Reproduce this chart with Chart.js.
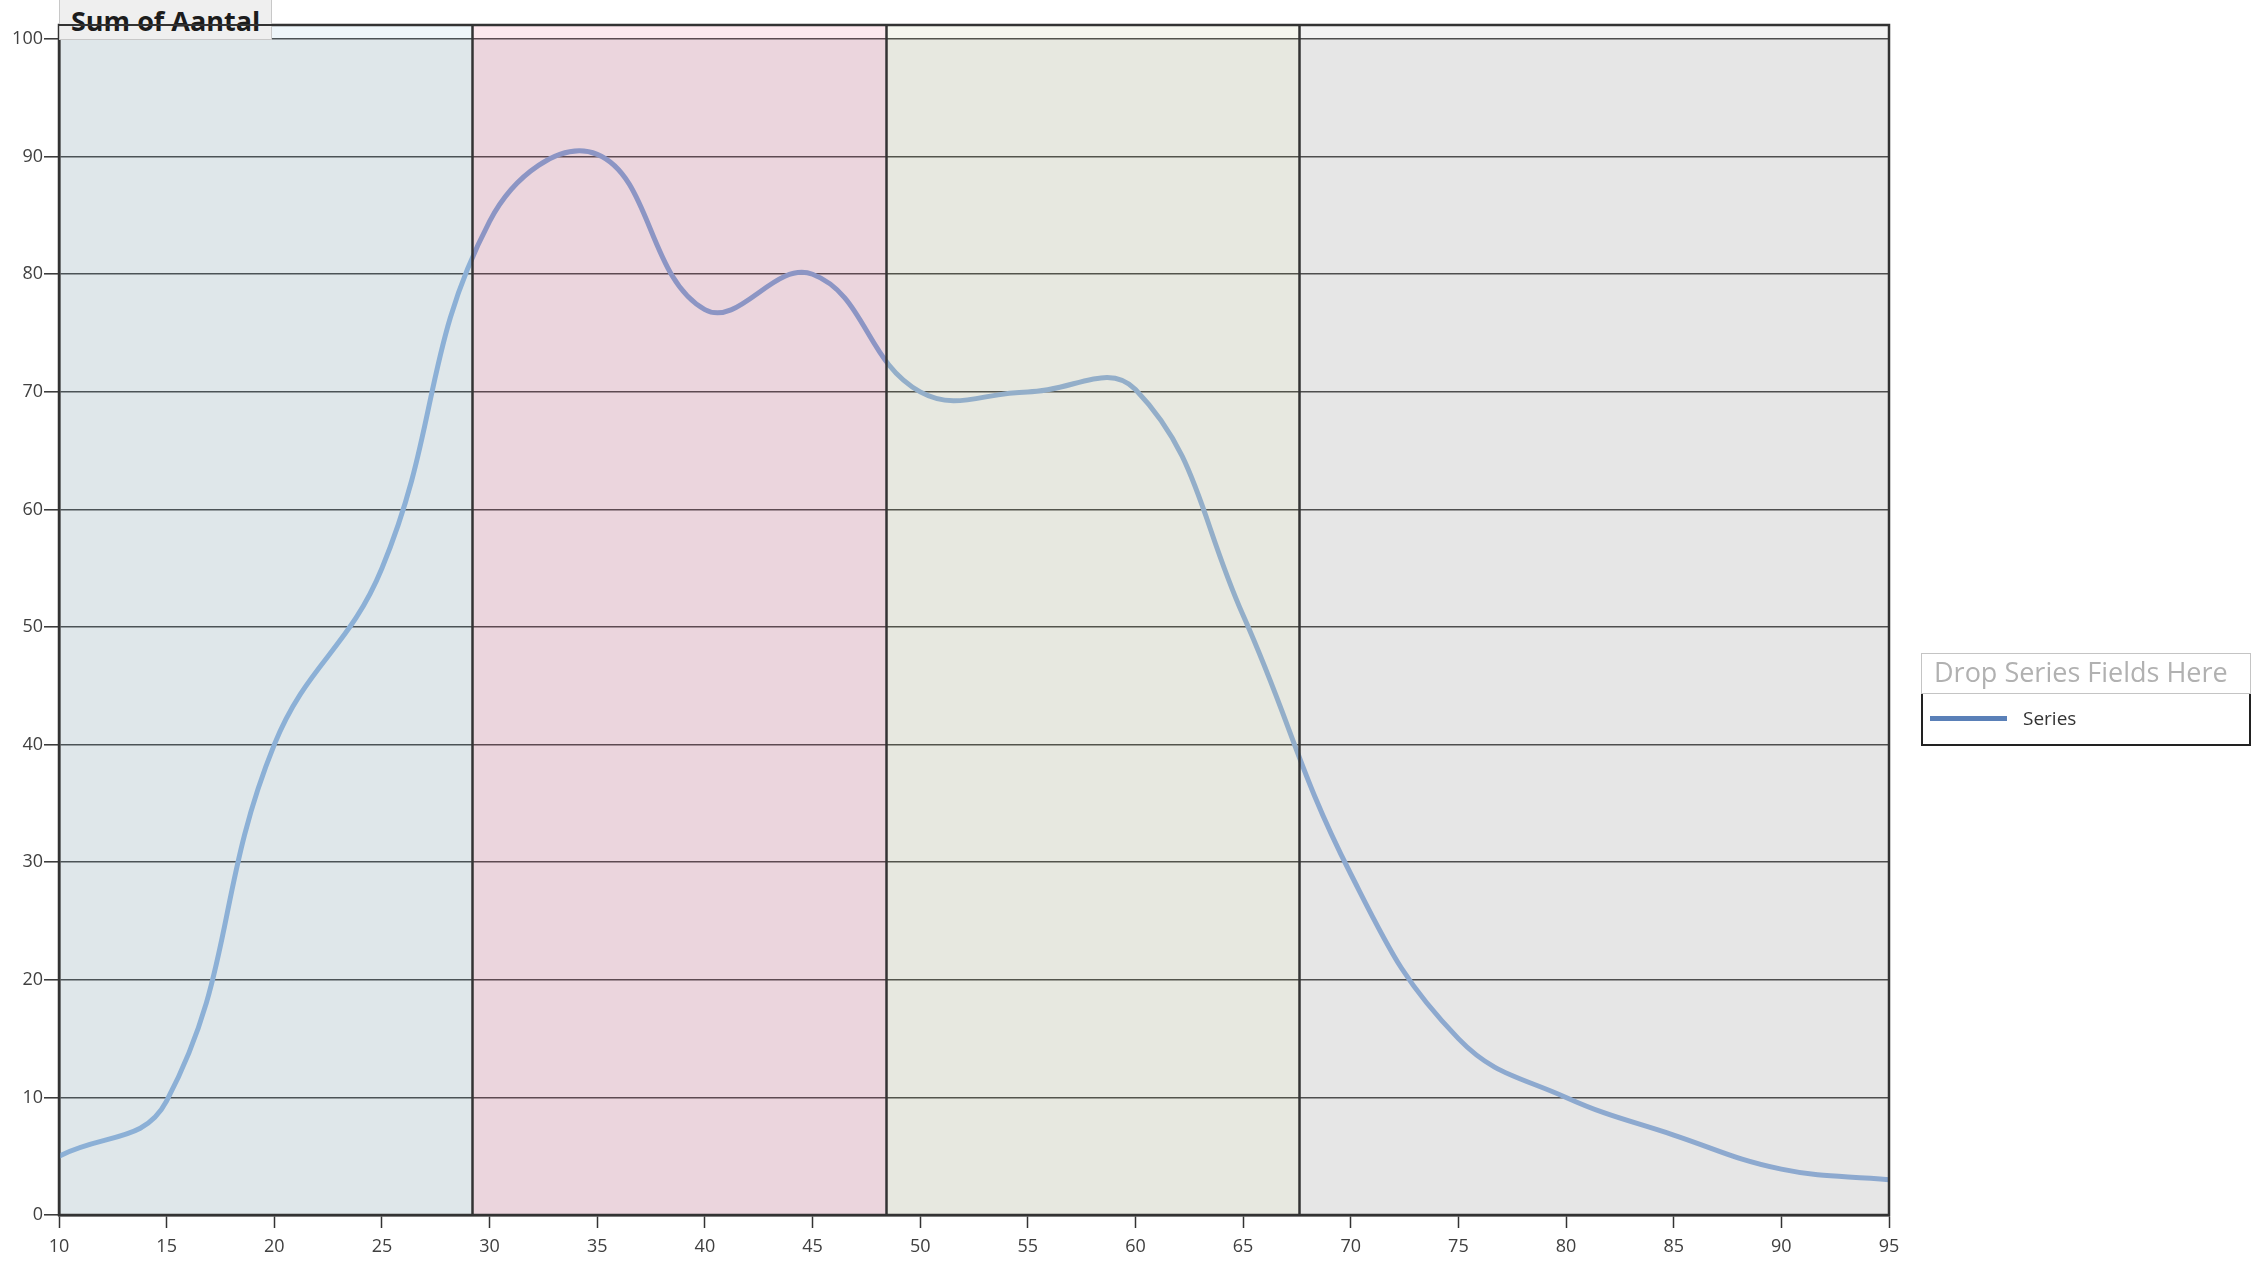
<!DOCTYPE html>
<html>
<head>
<meta charset="utf-8">
<title>Sum of Aantal</title>
<script src="https://cdn.jsdelivr.net/npm/chart.js@4.4.1/dist/chart.umd.min.js"></script>
<style>
  html, body { margin: 0; padding: 0; background: #ffffff; }
  #wrap { position: relative; width: 2252px; height: 1265px; overflow: hidden; font-family: "Open Sans", sans-serif; }
  #chart { position: absolute; left: 0; top: 0; }
  .field-btn {
    position: absolute; box-sizing: border-box; background: #efefef;
    border: 1px solid #c8c8c8; border-top: none;
    font-weight: bold; font-size: 27px; line-height: 32px; color: #1c1c1c;
    padding: 5px 0 0 11px; white-space: nowrap; overflow: hidden;
  }
  .frame-line { position: absolute; height: 2px; background: #333333; }
  .legend { position: absolute; box-sizing: border-box; }
  .legend-head {
    box-sizing: border-box; height: 41px; border: 1.5px solid #c4c4c4; border-bottom: 1px solid #c4c4c4;
    color: #b1b1b1; font-size: 27px; line-height: 32px; padding: 2px 0 0 12px; white-space: nowrap; overflow: hidden;
  }
  .legend-body {
    position: relative; box-sizing: border-box; height: 52px;
    border: 2px solid #222222; border-top: none;
  }
  .legend-swatch { position: absolute; left: 7px; top: 22px; width: 77px; height: 5px; background: #5a80b8; }
  .legend-text { position: absolute; left: 100px; top: 11px; font-size: 19px; line-height: 26px; color: #333333; }
</style>
</head>
<body>
<div id="wrap">
  <canvas id="chart" width="2252" height="1265"></canvas>
</div>
<script>
// Age on the x axis, summed count on the y axis
const ages   = [10, 15, 20, 25, 30, 35, 40, 45, 50, 55, 60, 65, 70, 75, 80, 85, 90, 95];
const aantal = [5.0, 9.7, 40, 55, 84.5, 90.2, 77, 80, 70, 70, 70.2, 51, 29, 15, 10, 6.8, 3.9, 3.0];

// Axis ticks
const xTicks = [10, 15, 20, 25, 30, 35, 40, 45, 50, 55, 60, 65, 70, 75, 80, 85, 90, 95];
const yTicks = [0, 10, 20, 30, 40, 50, 60, 70, 80, 90, 100];
const yTop = 101.2;

// Age groups shaded behind the curve
const bandEdges = [10, 29.2, 48.4, 67.6, 95];
const bandCeiling = 100;

// Texts
const seriesName = 'Series';
const fieldName = 'Sum of Aantal';
const dropHint = 'Drop Series Fields Here';

// Band palettes
const bandFill    = ['#dfe7ea', '#ebd5dd', '#e7e8e0', '#e6e6e6'];
const bandFillTop = ['#eef6fa', '#fde8ee', '#f5f6ee', '#f3f3f3'];
const bandLine    = ['#8cb0d6', '#8c95c4', '#93aec9', '#8da9cf'];
const bandGrid    = ['#4b5356', '#5d4a51', '#53544c', '#4e4e4e'];

function bandGradient(chart, colors) {
  const { ctx, chartArea, scales } = chart;
  const x = scales.x;
  const w = chartArea.right - chartArea.left;
  const g = ctx.createLinearGradient(chartArea.left, 0, chartArea.right, 0);
  const f = v => Math.min(1, Math.max(0, (x.getPixelForValue(v) - chartArea.left) / w));
  for (let i = 0; i < colors.length; i++) {
    g.addColorStop(f(bandEdges[i]), colors[i]);
    g.addColorStop(f(bandEdges[i + 1]), colors[i]);
  }
  return g;
}

const bandsPlugin = {
  id: 'bands',
  beforeDraw(chart) {
    const { ctx, chartArea, scales: { x, y } } = chart;
    const yc = y.getPixelForValue(bandCeiling);
    ctx.save();
    for (let i = 0; i < bandFill.length; i++) {
      const l = x.getPixelForValue(bandEdges[i]);
      const r = x.getPixelForValue(bandEdges[i + 1]);
      ctx.fillStyle = bandFillTop[i];
      ctx.fillRect(l, chartArea.top, r - l, yc - chartArea.top);
      ctx.fillStyle = bandFill[i];
      ctx.fillRect(l, yc, r - l, chartArea.bottom - yc);
    }
    ctx.restore();
  },
  afterDatasetsDraw(chart) {
    const { ctx, chartArea, scales: { x } } = chart;
    ctx.save();
    ctx.strokeStyle = '#333333';
    ctx.lineWidth = 2.5;
    for (let i = 1; i < bandEdges.length - 1; i++) {
      const px = Math.round(x.getPixelForValue(bandEdges[i])) + 0.5;
      ctx.beginPath();
      ctx.moveTo(px, chartArea.top);
      ctx.lineTo(px, chartArea.bottom);
      ctx.stroke();
    }
    ctx.strokeRect(chartArea.left, chartArea.top, chartArea.right - chartArea.left, chartArea.bottom - chartArea.top);
    ctx.restore();
  }
};

const tickFont = { family: '"Open Sans", sans-serif', size: 18 };

const chart = new Chart(document.getElementById('chart'), {
  type: 'line',
  data: {
    datasets: [{
      label: seriesName,
      data: ages.map((a, i) => ({ x: a, y: aantal[i] })),
      borderColor: ctx => ctx.chart.chartArea ? bandGradient(ctx.chart, bandLine) : bandLine[0],
      borderWidth: 5,
      pointRadius: 0,
      tension: 0.42,
      fill: false
    }]
  },
  options: {
    responsive: false,
    animation: false,
    devicePixelRatio: 1,
    layout: { padding: { top: 25, right: 363, left: 0, bottom: 0 } },
    plugins: { legend: { display: false }, tooltip: { enabled: false } },
    scales: {
      x: {
        type: 'linear',
        min: 10,
        max: 95,
        afterBuildTicks: s => { s.ticks = xTicks.map(v => ({ value: v })); },
        afterFit: s => { s.height = 50; },
        grid: { drawOnChartArea: false, drawTicks: true, tickLength: 13, tickColor: '#333333', tickWidth: 1.5 },
        border: { display: true, color: '#333333', width: 2.5 },
        ticks: { font: tickFont, color: '#404040', padding: 8, maxRotation: 0, autoSkip: false }
      },
      y: {
        type: 'linear',
        min: 0,
        max: yTop,
        afterBuildTicks: s => { s.ticks = yTicks.map(v => ({ value: v })); },
        afterFit: s => { s.width = 59; },
        grid: {
          color: ctx => ctx.chart.chartArea ? bandGradient(ctx.chart, bandGrid) : bandGrid[3],
          lineWidth: 1.6,
          drawTicks: true,
          tickLength: 15,
          tickColor: '#333333',
          tickWidth: 1.5
        },
        border: { display: true, color: '#333333', width: 2.5 },
        ticks: { font: tickFont, color: '#404040', padding: 1 }
      }
    }
  },
  plugins: [bandsPlugin]
});

// Pivot-chart field button and legend, placed against the plot area
(function () {
  const wrap = document.getElementById('wrap');
  const area = chart.chartArea;

  const btn = document.createElement('div');
  btn.className = 'field-btn';
  btn.textContent = fieldName;
  btn.style.left = area.left + 'px';
  btn.style.top = '0px';
  btn.style.width = '213px';
  btn.style.height = (chart.scales.y.getPixelForValue(bandCeiling) + 1) + 'px';
  wrap.appendChild(btn);

  const line = document.createElement('div');
  line.className = 'frame-line';
  line.style.left = area.left + 'px';
  line.style.top = (area.top - 1) + 'px';
  line.style.width = '214px';
  wrap.appendChild(line);

  const legend = document.createElement('div');
  legend.className = 'legend';
  legend.style.left = (area.right + 32) + 'px';
  legend.style.top = '653px';
  legend.style.width = '330px';
  legend.innerHTML =
    '<div class="legend-head"></div>' +
    '<div class="legend-body"><div class="legend-swatch"></div><div class="legend-text"></div></div>';
  legend.querySelector('.legend-head').textContent = dropHint;
  legend.querySelector('.legend-text').textContent = chart.data.datasets[0].label;
  wrap.appendChild(legend);
})();
</script>
</body>
</html>
